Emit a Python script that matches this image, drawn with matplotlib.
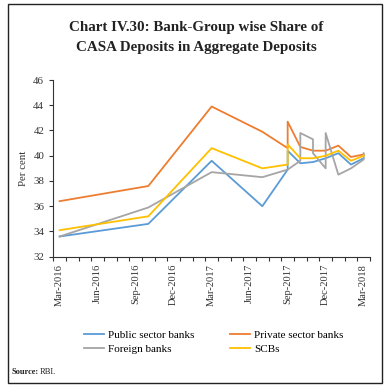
import matplotlib
matplotlib.use('Agg')
import matplotlib.pyplot as plt
from matplotlib.patches import Rectangle

plt.rcParams['font.family'] = ['Liberation Serif', 'DejaVu Serif']

# month index 0 = Mar-2016 ... 24 = Mar-2018 (repeated index = two readings in one month)
month_labels = ['Mar-2016', 'Jun-2016', 'Sep-2016', 'Dec-2016', 'Mar-2017',
                'Jun-2017', 'Sep-2017', 'Dec-2017', 'Mar-2018']

psb_x = [0, 7, 12, 16, 18, 18, 19, 20, 21, 22, 23, 24]
psb_y = [33.6, 34.6, 39.6, 36.0, 38.9, 40.4, 39.4, 39.5, 39.8, 40.2, 39.3, 39.8]

pvt_x = [0, 7, 12, 16, 18, 18, 19, 20, 21, 22, 23, 24]
pvt_y = [36.4, 37.6, 43.9, 41.9, 40.6, 42.7, 40.7, 40.4, 40.4, 40.8, 39.9, 40.1]

fb_x = [0, 7, 12, 16, 18, 19, 19, 20, 20, 21, 21, 22, 23, 24, 24]
fb_y = [33.6, 35.9, 38.7, 38.3, 38.9, 39.6, 41.8, 41.3, 40.2, 39.0, 41.8, 38.5, 39.0, 39.7, 40.2]

scb_x = [0, 7, 12, 16, 18, 18, 19, 20, 21, 22, 23, 24]
scb_y = [34.1, 35.2, 40.6, 39.0, 39.3, 40.9, 39.8, 39.8, 40.0, 40.4, 39.6, 40.0]

fig = plt.figure(figsize=(3.92, 3.92), dpi=100)
fig.patches.append(Rectangle((8 / 392, 1 - 383 / 392), 374 / 392, 379 / 392,
                             transform=fig.transFigure, fill=False,
                             edgecolor='#222222', linewidth=1.0))

fig.text(0.5, 1 - 28 / 392, 'Chart IV.30: Bank-Group wise Share of',
         ha='center', va='center', fontsize=10.8, fontweight='bold', color='#222222')
fig.text(0.5, 1 - 47 / 392, 'CASA Deposits in Aggregate Deposits',
         ha='center', va='center', fontsize=10.8, fontweight='bold', color='#222222')

ax = fig.add_axes([53.3 / 392, 1 - 256.7 / 392, (370 - 53.3) / 392, (256.7 - 80) / 392])

lw = 1.3
l1, = ax.plot(psb_x, psb_y, color='#5B9BD5', lw=lw, label='Public sector banks')
l2, = ax.plot(pvt_x, pvt_y, color='#ED7D31', lw=lw, label='Private sector banks')
l3, = ax.plot(fb_x, fb_y, color='#A5A5A5', lw=lw, label='Foreign banks')
l4, = ax.plot(scb_x, scb_y, color='#FFC000', lw=lw, label='SCBs')

ax.set_xlim(-0.5, 24.5)
ax.set_ylim(32, 46)
ax.set_yticks(range(32, 47, 2))
ax.set_xticks(range(0, 25, 3))
ax.set_xticklabels(month_labels, rotation=90)
ax.set_xticks([i - 0.5 for i in range(26)], minor=True)
ax.tick_params(axis='x', which='major', length=0, pad=5, labelsize=7.6, labelcolor='#333333')
ax.tick_params(axis='x', which='minor', length=3, width=0.8, color='#333333')
ax.tick_params(axis='y', length=3, width=0.8, labelsize=7.8, labelcolor='#333333', color='#333333')
for s in ['top', 'right']:
    ax.spines[s].set_visible(False)
for s in ['left', 'bottom']:
    ax.spines[s].set_color('#333333')
    ax.spines[s].set_linewidth(0.8)
ax.set_ylabel('Per cent', fontsize=7.8, color='#333333', labelpad=4)

fig.legend([l1, l3, l2, l4], [h.get_label() for h in [l1, l3, l2, l4]],
           ncol=2, loc='center', bbox_to_anchor=(0.545, 1 - 342 / 392),
           frameon=False, fontsize=8, handlelength=1.8, columnspacing=3.2,
           labelspacing=0.35, handletextpad=0.4)

fig.text(12 / 392, 1 - 372 / 392, 'Source:', fontsize=6, fontweight='bold',
         ha='left', va='center', color='#222222')
fig.text(40 / 392, 1 - 372 / 392, 'RBI.', fontsize=6,
         ha='left', va='center', color='#222222')

fig.savefig('out.png', dpi=100)
